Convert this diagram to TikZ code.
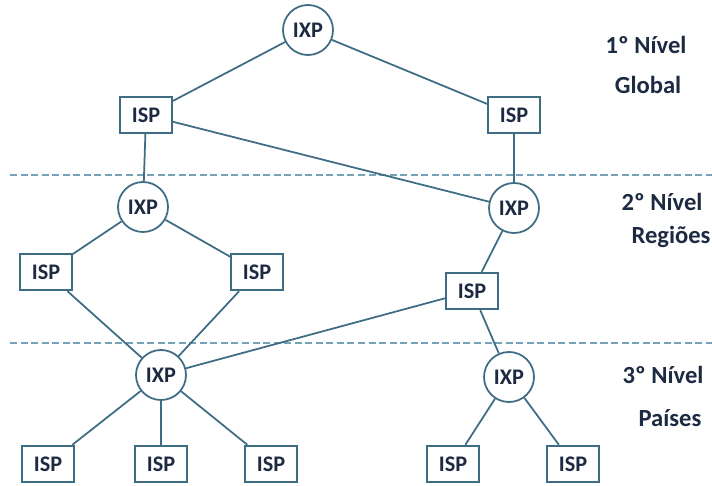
\documentclass[tikz,border=0pt]{standalone}
\usepackage{fontspec}
\setmainfont{Carlito}
\usepackage{tikz}
\usetikzlibrary{calc,positioning}
\definecolor{linecol}{RGB}{62,108,132}
\definecolor{dashcol}{RGB}{118,162,186}
\definecolor{txtcol}{RGB}{28,42,66}
\tikzstyle{link} = [draw=linecol, line width=1.5pt]

\begin{document}
\begin{tikzpicture}[x=0.03cm, y=-0.03cm,
font=\fontsize{19}{22}\selectfont\bfseries, text=txtcol,
roundnode/.style={circle, draw=linecol, fill=white, line width=1.5pt, minimum size=1.5cm, inner sep=0pt},
squarednode/.style={rectangle, draw=linecol, fill=white, line width=1.5pt, minimum width=1.56cm, minimum height=1.1cm, inner sep=0pt},
levellabel/.style={font=\fontsize{21}{24}\selectfont\bfseries, inner sep=0pt}]
\useasboundingbox (0,0) rectangle (712,486);

%Level separators
\coordinate (sepAw) at (10,175);
\coordinate (sepAe) at (712,175);
\coordinate (sepBw) at (10,343);
\coordinate (sepBe) at (712,343);
\draw[dashcol, line width=1.6pt, dash pattern=on 6pt off 3pt] (sepAw) -- (sepAe);
\draw[dashcol, line width=1.6pt, dash pattern=on 6pt off 3pt] (sepBw) -- (sepBe);

%Nodes
\node[roundnode]   (ixpG)   at (308,30)  {IXP};
\node[squarednode] (ispGl)  at (146,115) {ISP};
\node[squarednode] (ispGr)  at (514,115) {ISP};

\node[roundnode]   (ixpRl)  at (143,207) {IXP};
\node[roundnode]   (ixpRr)  at (514,208) {IXP};
\node[squarednode] (ispRa)  at (46,272)  {ISP};
\node[squarednode] (ispRb)  at (257,272) {ISP};
\node[squarednode] (ispRc)  at (472,291) {ISP};

\node[roundnode]   (ixpPl)  at (161,375) {IXP};
\node[roundnode]   (ixpPr)  at (509,377) {IXP};
\node[squarednode] (ispPa)  at (48,464)  {ISP};
\node[squarednode] (ispPb)  at (161,464) {ISP};
\node[squarednode] (ispPc)  at (271,464) {ISP};
\node[squarednode] (ispPd)  at (453,464) {ISP};
\node[squarednode] (ispPe)  at (573,464) {ISP};

%Labels
\node[levellabel] (lvlA)  at (646,45)  {1º Nível};
\node[levellabel] (lvlAn) at (648,85)  {Global};
\node[levellabel] (lvlB)  at (662,202) {2º Nível};
\node[levellabel] (lvlBn) at (671,237) {Regiões};
\node[levellabel] (lvlC)  at (663,375) {3º Nível};
\node[levellabel] (lvlCn) at (670,418) {Países};

%Lines
\path[link] (ixpG) -- (ispGl);
\path[link] (ixpG) -- (ispGr);
\path[link] (ispGl) -- (ixpRl);
\path[link] (ispGl) -- (ixpRr);
\path[link] (ispGr) -- (ixpRr);
\path[link] (ixpRl) -- (ispRa);
\path[link] (ixpRl) -- (ispRb);
\path[link] (ixpRr) -- (ispRc);
\path[link] (ispRa) -- (ixpPl);
\path[link] (ispRb) -- (ixpPl);
\path[link] (ispRc) -- (ixpPl);
\path[link] (ispRc) -- (ixpPr);
\path[link] (ixpPl) -- (ispPa);
\path[link] (ixpPl) -- (ispPb);
\path[link] (ixpPl) -- (ispPc);
\path[link] (ixpPr) -- (ispPd);
\path[link] (ixpPr) -- (ispPe);
\end{tikzpicture}
\end{document}
